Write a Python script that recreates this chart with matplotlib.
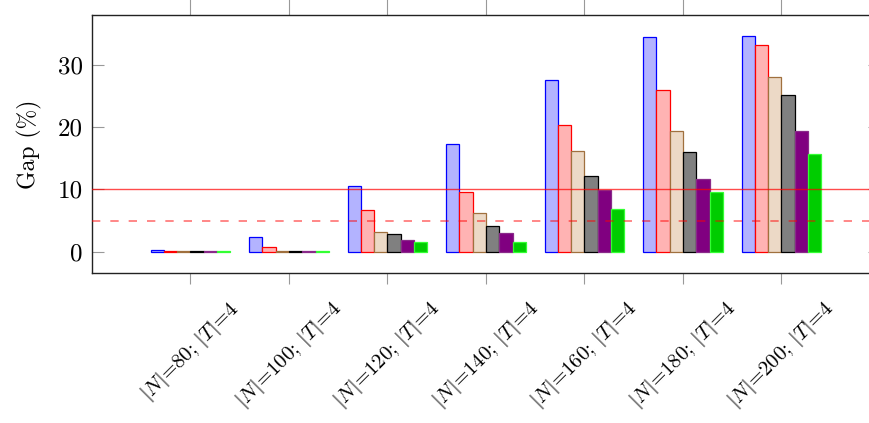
import matplotlib
matplotlib.use("Agg")
import matplotlib.pyplot as plt
import numpy as np

plt.rcParams['font.family'] = 'serif'
plt.rcParams['font.serif'] = ['cmr10']
plt.rcParams['mathtext.fontset'] = 'cm'
plt.rcParams['axes.formatter.use_mathtext'] = True

categories = [80, 100, 120, 140, 160, 180, 200]
tick_labels = [r'$|N|$=%d; $|T|$=4' % n for n in categories]

s1 = [0.2, 2.35, 10.5, 17.2, 27.6, 34.5, 34.6]
s2 = [0.05, 0.75, 6.7, 9.5, 20.4, 26.0, 33.1]
s3 = [0.05, 0.15, 3.2, 6.2, 16.1, 19.4, 28.1]
s4 = [0.05, 0.05, 2.9, 4.2, 12.2, 16.0, 25.1]
s5 = [0.05, 0.05, 1.9, 3.0, 9.9, 11.6, 19.3]
s6 = [0.05, 0.05, 1.56, 1.56, 6.8, 9.6, 15.7]
series = [s1, s2, s3, s4, s5, s6]

fills = ['#b3b3ff', '#ffb3b3', '#ecd9c6', '#808080', '#800080', '#00cc00']
edges = ['#0000ff', '#ff0000', '#a0703e', '#000000', '#8a2a8a', '#33ff33']

W, H = 870, 423
fig = plt.figure(figsize=(W/100, H/100), dpi=100)
left, right, top, bottom = 92, 880, 15.5, 273.3
ax = fig.add_axes([left/W, 1-bottom/H, (right-left)/W, (bottom-top)/H])

x = np.arange(1, len(categories)+1)
bw = 0.135
n = len(series)
for i, (vals, fc, ec) in enumerate(zip(series, fills, edges)):
    off = (i - (n-1)/2) * bw
    ax.bar(x + off, vals, width=bw, facecolor=fc, edgecolor=ec, linewidth=0.9, zorder=2)

ax.axhline(10, color='red', alpha=0.7, linewidth=1.0, zorder=3)
ax.axhline(5, color='red', alpha=0.55, linewidth=1.2, dashes=(5, 6), zorder=3)

ax.set_xlim(0, 8)
ax.set_ylim(-3.47, 37.9)
ax.set_xticks(x)
ax.set_xticklabels(tick_labels, rotation=45, ha='center', va='top')
ax.set_yticks([0, 10, 20, 30])
ax.set_yticklabels(['0', '10', '20', '30'])

ax.tick_params(axis='x', which='both', direction='out', length=8, width=0.8,
               color='#999999', top=True, bottom=True, labelsize=15, pad=9)
ax.tick_params(axis='y', which='both', direction='in', length=8.5, width=0.8,
               color='#999999', left=True, right=True, labelsize=18, pad=6.5)
for t in ax.xaxis.get_major_ticks():
    t.tick2line.set_markersize(12)

for sp in ax.spines.values():
    sp.set_linewidth(1.0)
    sp.set_color('#222222')

ax.set_ylabel('Gap (%)', fontsize=17)
ax.yaxis.set_label_coords(-0.063, 0.5)

fig.savefig('out.png', dpi=100)
